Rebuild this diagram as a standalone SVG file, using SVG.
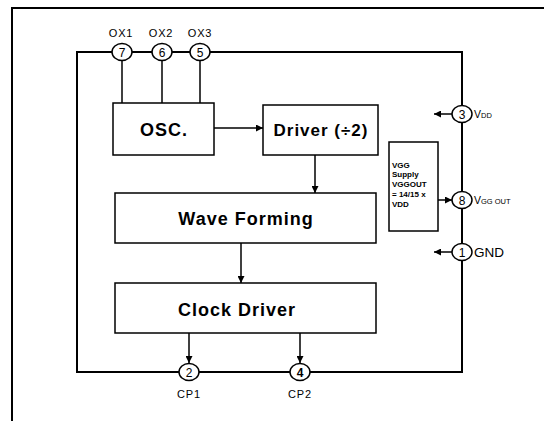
<svg xmlns="http://www.w3.org/2000/svg" width="544" height="421" viewBox="0 0 544 421">
<defs>
<marker id="ah" viewBox="0 0 10 10" refX="10" refY="5" markerWidth="7" markerHeight="7" markerUnits="userSpaceOnUse" orient="auto">
<path d="M0,0 L10,5 L0,10 Z" fill="#000"/>
</marker>
</defs>
<style>
.frame{fill:none;stroke:#000;stroke-width:2}
.chip{fill:none;stroke:#000;stroke-width:2}
.box{fill:#fff;stroke:#000;stroke-width:1.5}
.pin{fill:#fff;stroke:#000;stroke-width:1.5}
.conn{fill:none;stroke:#000;stroke-width:1.5}
.big{font-family:"Liberation Sans",Arial,sans-serif;font-weight:bold;font-size:18px;letter-spacing:1px;text-anchor:middle;fill:#000}
.num{font-family:"Liberation Sans",Arial,sans-serif;font-size:12px;text-anchor:middle;fill:#000}
.lbl{font-family:"Liberation Sans",Arial,sans-serif;font-size:11px;text-anchor:middle;fill:#000;letter-spacing:0.8px}
.side{font-family:"Liberation Sans",Arial,sans-serif;fill:#000}
.tiny{font-family:"Liberation Sans",Arial,sans-serif;font-weight:bold;font-size:8px;fill:#000}
</style>
<g id="frame">
<path class="frame" d="M12,421 L12,8 L544,8"/>
</g>
<g id="chip-outline">
<rect class="chip" x="77" y="52" width="385" height="320"/>
</g>
<g id="connectors">
<line class="conn" x1="122" y1="60" x2="122" y2="103"/>
<line class="conn" x1="162" y1="60" x2="162" y2="103"/>
<line class="conn" x1="200" y1="60" x2="200" y2="103"/>
<line class="conn" x1="214" y1="128" x2="263" y2="128" marker-end="url(#ah)"/>
<line class="conn" x1="315" y1="155" x2="315" y2="193" marker-end="url(#ah)"/>
<line class="conn" x1="241" y1="243" x2="241" y2="283" marker-end="url(#ah)"/>
<line class="conn" x1="189" y1="333" x2="189" y2="363" marker-end="url(#ah)"/>
<line class="conn" x1="300" y1="333" x2="300" y2="363" marker-end="url(#ah)"/>
<line class="conn" x1="452" y1="114" x2="434" y2="114" marker-end="url(#ah)"/>
<line class="conn" x1="438" y1="200" x2="452" y2="200" marker-end="url(#ah)"/>
<line class="conn" x1="452" y1="252" x2="434" y2="252" marker-end="url(#ah)"/>
</g>
<g id="osc">
<rect class="box" x="113" y="103" width="101" height="52"/>
<text class="big" x="164" y="136">OSC.</text>
</g>
<g id="driver">
<rect class="box" x="263" y="105" width="115" height="50"/>
<text class="big" x="321" y="136" style="font-size:17px">Driver (÷2)</text>
</g>
<g id="wave-forming">
<rect class="box" x="115" y="193" width="261" height="50"/>
<text class="big" x="246" y="225">Wave Forming</text>
</g>
<g id="clock-driver">
<rect class="box" x="115" y="283" width="261" height="50"/>
<text class="big" x="237" y="316">Clock Driver</text>
</g>
<g id="vgg-supply">
<rect class="box" x="389" y="142" width="49" height="89"/>
<text class="tiny" x="392" y="168">VGG</text>
<text class="tiny" x="392" y="177">Supply</text>
<text class="tiny" x="392" y="187">VGGOUT</text>
<text class="tiny" x="392" y="197">= 14/15 x</text>
<text class="tiny" x="392" y="207">VDD</text>
</g>
<g id="pin7">
<ellipse class="pin" cx="122" cy="52" rx="10" ry="8.5"/>
<text class="num" x="122" y="56.5">7</text>
<text class="lbl" x="121" y="37">OX1</text>
</g>
<g id="pin6">
<ellipse class="pin" cx="162" cy="52" rx="10" ry="8.5"/>
<text class="num" x="162" y="56.5">6</text>
<text class="lbl" x="161" y="37">OX2</text>
</g>
<g id="pin5">
<ellipse class="pin" cx="200" cy="52" rx="10" ry="8.5"/>
<text class="num" x="200" y="56.5">5</text>
<text class="lbl" x="200" y="37">OX3</text>
</g>
<g id="pin3">
<ellipse class="pin" cx="462" cy="114" rx="10" ry="8.5"/>
<text class="num" x="462" y="118.5">3</text>
<text class="side" x="474" y="118" font-size="10.5">V<tspan font-size="7.5">DD</tspan></text>
</g>
<g id="pin8">
<ellipse class="pin" cx="462" cy="200" rx="10" ry="8.5"/>
<text class="num" x="462" y="204.5">8</text>
<text class="side" x="474" y="204" font-size="10.5">V<tspan font-size="7.5">GG OUT</tspan></text>
</g>
<g id="pin1">
<ellipse class="pin" cx="462" cy="252" rx="10" ry="8.5"/>
<text class="num" x="462" y="256.5">1</text>
<text class="side" x="474" y="257" font-size="13.5">GND</text>
</g>
<g id="pin2">
<ellipse class="pin" cx="189" cy="372" rx="10" ry="8.5"/>
<text class="num" x="189" y="376.5">2</text>
<text class="lbl" x="189" y="398">CP1</text>
</g>
<g id="pin4">
<ellipse class="pin" cx="300" cy="372" rx="10" ry="8.5"/>
<text class="num" x="300" y="376.5" font-weight="bold">4</text>
<text class="lbl" x="300" y="398">CP2</text>
</g>
</svg>
